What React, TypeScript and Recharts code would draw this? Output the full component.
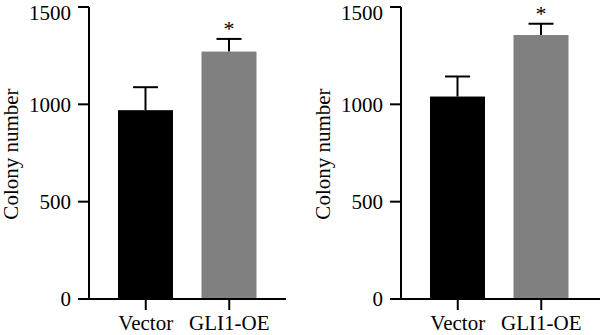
import React from 'react';
import { BarChart, Bar, XAxis, YAxis, Cell, Label } from 'recharts';

// Colony counts (mean ± SD) for two independent experiments
const categories = ['Vector', 'GLI1-OE'];
const leftMeans = [970, 1271];
const leftErrors = [118, 65];
const rightMeans = [1040, 1356];
const rightErrors = [103, 58];
const significance = ['', '*'];
const yTicks = [0, 500, 1000, 1500];
const barColors = ['#000000', '#808080'];

const FONT = '"Liberation Serif", "Times New Roman", serif';
const FONT_SIZE = 21;

type Row = { name: string; mean: number; err: number; sig: string };

const buildRows = (means: number[], errors: number[]): Row[] =>
  categories.map((name, i) => ({ name, mean: means[i], err: errors[i], sig: significance[i] }));

const leftData = buildRows(leftMeans, leftErrors);
const rightData = buildRows(rightMeans, rightErrors);

// Bar rectangle with an upward-only SD whisker and an optional significance mark
const BarWithError = (props: any) => {
  const { x, y, width, height, fill, payload } = props;
  const pxPerUnit = payload.mean ? height / payload.mean : 0;
  const errTop = y - payload.err * pxPerUnit;
  const cx = x + width / 2;
  const cap = 12.5;
  return (
    <g>
      <rect x={x} y={y} width={width} height={height} fill={fill} />
      <line x1={cx} y1={y} x2={cx} y2={errTop} stroke="#000" strokeWidth={2} />
      <line x1={cx - cap} y1={errTop} x2={cx + cap} y2={errTop} stroke="#000" strokeWidth={2} />
      {payload.sig ? (
        <text x={cx} y={errTop - 3} textAnchor="middle" fontFamily={FONT} fontSize={22} fill="#000">
          {payload.sig}
        </text>
      ) : null}
    </g>
  );
};

const tickStyle = { fill: '#000', fontFamily: FONT, fontSize: FONT_SIZE };

type PanelProps = {
  data: Row[];
  yAxisWidth: number;
  marginRight: number;
  padRight: number;
  titleX: number;
};

const Panel = ({ data, yAxisWidth, marginRight, padRight, titleX }: PanelProps) => (
  <BarChart
    width={300}
    height={335}
    data={data}
    margin={{ top: 7, right: marginRight, bottom: 0, left: 0 }}
    barSize={55}
  >
    <XAxis
      dataKey="name"
      height={36}
      padding={{ left: 15, right: padRight }}
      axisLine={{ stroke: '#000', strokeWidth: 2 }}
      tickLine={{ stroke: '#000', strokeWidth: 2 }}
      tickSize={11}
      tickMargin={5}
      tick={tickStyle}
      interval={0}
    />
    <YAxis
      width={yAxisWidth}
      domain={[0, 1500]}
      ticks={yTicks}
      axisLine={{ stroke: '#000', strokeWidth: 2 }}
      tickLine={{ stroke: '#000', strokeWidth: 2 }}
      tickSize={11}
      tickMargin={7}
      tick={tickStyle}
    >
      <Label
        content={() => (
          <text
            x={titleX}
            y={154}
            transform={`rotate(-90 ${titleX} 154)`}
            textAnchor="middle"
            dominantBaseline="central"
            fontFamily={FONT}
            fontSize={FONT_SIZE}
            fill="#000"
          >
            Colony number
          </text>
        )}
      />
    </YAxis>
    <Bar dataKey="mean" isAnimationActive={false} shape={BarWithError}>
      {data.map((_, i) => (
        <Cell key={i} fill={barColors[i]} />
      ))}
    </Bar>
  </BarChart>
);

export default function App() {
  return (
    <div
      style={{
        position: 'absolute',
        left: 0,
        top: 0,
        width: 600,
        height: 335,
        display: 'flex',
        background: '#fff',
        overflow: 'hidden',
      }}
    >
      <Panel data={leftData} yAxisWidth={89} marginRight={14} padRight={15} titleX={11} />
      <Panel data={rightData} yAxisWidth={101} marginRight={0} padRight={17} titleX={23} />
    </div>
  );
}
